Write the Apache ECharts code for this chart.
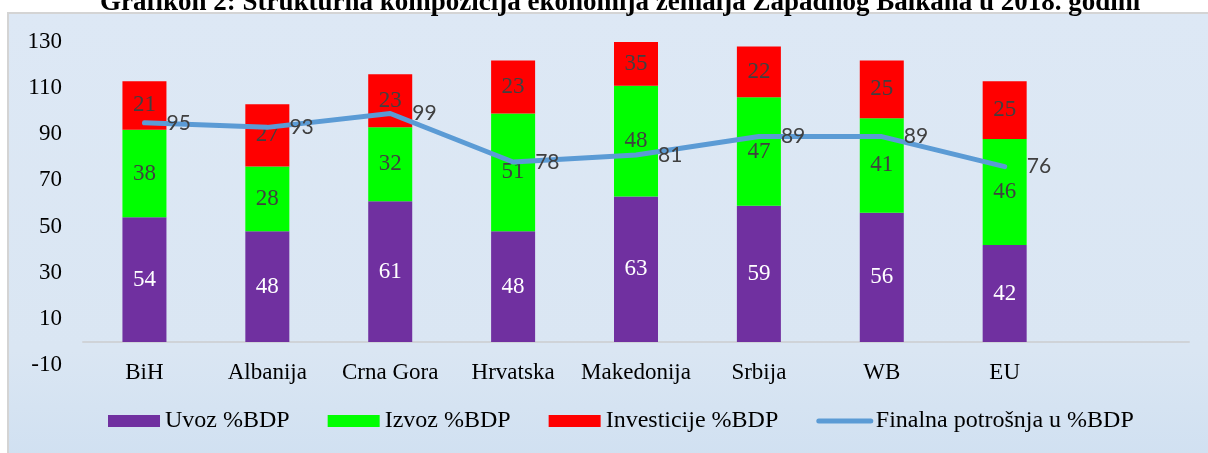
<!DOCTYPE html>
<html>
<head>
<meta charset="utf-8">
<script src="https://cdn.jsdelivr.net/npm/echarts@6/dist/echarts.min.js"></script>
<style>
html, body { margin: 0; padding: 0; background: #fff; }
#chartBox { width: 1208px; height: 453px; }
</style>
</head>
<body>
<div id="chartBox"></div>
<script>
// the source chart keeps an empty ninth category at the right end
var zemlje = ['BiH', 'Albanija', 'Crna Gora', 'Hrvatska', 'Makedonija', 'Srbija', 'WB', 'EU', ''];
var uvoz = [54, 48, 61, 48, 63, 59, 56, 42];
var izvoz = [38, 28, 32, 51, 48, 47, 41, 46];
var investicije = [21, 27, 23, 23, 35, 22, 25, 25];
var potrosnja = [95, 93, 99, 78, 81, 89, 89, 76];
var yTicks = [-10, 10, 30, 50, 70, 90, 110, 130];

var serif = '"Liberation Serif", "DejaVu Serif", serif';
var sans = '"Lato", "Open Sans", sans-serif';

var dom = document.getElementById('chartBox');
var myChart = echarts.init(dom);

var barLabel = {
    show: true,
    position: 'inside',
    fontFamily: serif,
    fontSize: 23,
    color: '#404040'
};

var option = {
    backgroundColor: '#ffffff',
    animation: false,
    title: {
        text: 'Grafikon 2: Strukturna kompozicija ekonomija zemalja Zapadnog Balkana u 2018. godini',
        left: 95,
        top: -15,
        textStyle: {
            fontFamily: serif,
            fontWeight: 'bold',
            fontSize: 27,
            color: '#000'
        }
    },
    graphic: [
        {
            type: 'rect',
            z: -100,
            silent: true,
            shape: { x: 8, y: 13, width: 1210, height: 450 },
            style: {
                fill: new echarts.graphic.LinearGradient(0, 0, 0, 1, [
                    { offset: 0, color: '#dde8f5' },
                    { offset: 0.75, color: '#dae6f3' },
                    { offset: 1, color: '#d0e0f1' }
                ]),
                stroke: '#d4d4d4',
                lineWidth: 2
            }
        }
    ],
    grid: {
        left: 83,
        right: 19,
        top: 42,
        bottom: 88
    },
    legend: {
        left: 103,
        top: 404,
        itemWidth: 52,
        itemHeight: 12,
        itemGap: 38,
        textStyle: {
            fontFamily: serif,
            fontSize: 24,
            color: '#000'
        },
        data: [
            { name: 'Uvoz %BDP', icon: 'rect' },
            { name: 'Izvoz %BDP', icon: 'rect' },
            { name: 'Investicije %BDP', icon: 'rect' },
            {
                name: 'Finalna potrošnja u %BDP',
                itemStyle: { opacity: 0 },
                lineStyle: { width: 5, cap: 'round', color: '#5b9bd5' }
            }
        ]
    },
    xAxis: {
        type: 'category',
        data: zemlje,
        axisLine: { lineStyle: { color: '#cfd3d8', width: 2 } },
        axisTick: { show: false },
        axisLabel: {
            interval: 0,
            margin: -4,
            fontFamily: serif,
            fontSize: 23,
            color: '#000'
        }
    },
    yAxis: {
        type: 'value',
        min: -10,
        max: 130,
        axisLine: { show: false },
        axisTick: { show: false },
        splitLine: { show: false },
        axisLabel: {
            margin: 21,
            fontFamily: serif,
            fontSize: 23,
            color: '#000',
            customValues: yTicks
        }
    },
    series: [
        {
            name: 'Uvoz %BDP',
            type: 'bar',
            stack: 'ukupno',
            barWidth: 44,
            data: uvoz,
            itemStyle: { color: '#7030a0' },
            label: Object.assign({}, barLabel, { color: '#ffffff' })
        },
        {
            name: 'Izvoz %BDP',
            type: 'bar',
            stack: 'ukupno',
            barWidth: 44,
            data: izvoz,
            itemStyle: { color: '#00ff00' },
            label: barLabel
        },
        {
            name: 'Investicije %BDP',
            type: 'bar',
            stack: 'ukupno',
            barWidth: 44,
            data: investicije,
            itemStyle: { color: '#ff0000' },
            label: barLabel
        },
        {
            name: 'Finalna potrošnja u %BDP',
            type: 'line',
            data: potrosnja,
            symbol: 'circle',
            symbolSize: 0.1,
            showSymbol: true,
            z: 5,
            lineStyle: { color: '#5b9bd5', width: 5, cap: 'round', join: 'round' },
            itemStyle: { color: '#5b9bd5' },
            label: {
                show: true,
                position: 'right',
                distance: 22,
                fontFamily: sans,
                fontSize: 21,
                color: '#404040'
            }
        }
    ]
};

if (option && typeof option === "object") {
    myChart.setOption(option, true);
}
</script>
</body>
</html>
